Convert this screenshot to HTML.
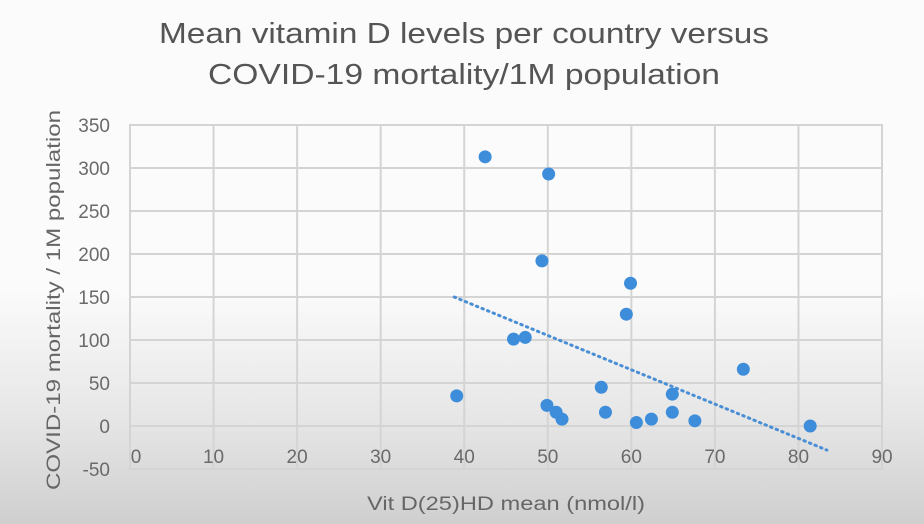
<!DOCTYPE html>
<html><head><meta charset="utf-8"><style>
html,body{margin:0;padding:0;width:924px;height:524px;overflow:hidden;}
body{background:linear-gradient(180deg,#fbfbfb 0%,#fbfbfb 55%,#e6e6e6 80%,#cfcfcf 100%);font-family:"Liberation Sans",sans-serif;}
</style></head><body>
<svg id="chart" width="924" height="524" xmlns="http://www.w3.org/2000/svg" style="position:absolute;left:0;top:0">
<rect x="130" y="125" width="752" height="344" fill="none" stroke="#d2d2d2" stroke-width="2"/>
<g id="grid"></g>
<g id="ticks" fill="#6a6a6a" font-size="19"></g>
<polyline id="trend" fill="none" stroke="#4a8fd6" stroke-width="3" stroke-dasharray="1.5 4.5" stroke-linecap="round"></polyline>
<g id="points"></g>
<text x="464" y="43" text-anchor="middle" font-size="29" fill="#555" textLength="610" lengthAdjust="spacingAndGlyphs">Mean vitamin D  levels per country versus</text>
<text x="464" y="84" text-anchor="middle" font-size="29" fill="#555" textLength="512" lengthAdjust="spacingAndGlyphs">COVID-19 mortality/1M population</text>
<text x="506" y="510" text-anchor="middle" font-size="19" fill="#666" textLength="278" lengthAdjust="spacingAndGlyphs">Vit D(25)HD mean (nmol/l)</text>
<text transform="translate(60,300) rotate(-90)" text-anchor="middle" font-size="19" fill="#666" textLength="380" lengthAdjust="spacingAndGlyphs">COVID-19 mortality / 1M population</text>
</svg>
<script>
const xTicks=[0,10,20,30,40,50,60,70,80,90];
const yTicks=[-50,0,50,100,150,200,250,300,350];
const vitD=[42.5,50.1,49.3,59.9,59.4,45.9,47.3,39.1,73.4,56.4,64.9,49.9,51.0,51.7,56.9,64.9,62.4,60.6,67.6,81.4];
const mortality=[313,293,192,166,130,101,103,35,66,45,37,24,16,8,16,16,8,4,6,0];
const trendX=[38.8,83.4];
const trendY=[150,-28];
const NS="http://www.w3.org/2000/svg";
const X=v=>130+v*8.356;
const Y=v=>426-v*0.86;
const grid=document.getElementById('grid'),ticks=document.getElementById('ticks'),pts=document.getElementById('points');
xTicks.forEach(t=>{
 const l=document.createElementNS(NS,'line');
 
 
 l.setAttribute('x1',X(t));l.setAttribute('x2',X(t));l.setAttribute('y1',Y(350));l.setAttribute('y2',Y(-50));
 l.setAttribute('stroke','#d4d4d4');l.setAttribute('stroke-width','2');grid.appendChild(l);
 const s=document.createElementNS(NS,'text');
 
 
 s.setAttribute('x',X(t)+(t===0?6:0));s.setAttribute('y',Y(-50)-6);s.setAttribute('text-anchor','middle');
 s.textContent=t;ticks.appendChild(s);
});
yTicks.forEach(t=>{
 const l=document.createElementNS(NS,'line');
 
 
 l.setAttribute('x1',X(0));l.setAttribute('x2',X(90));l.setAttribute('y1',Y(t));l.setAttribute('y2',Y(t));
 l.setAttribute('stroke','#d4d4d4');l.setAttribute('stroke-width','2');grid.appendChild(l);
 const s=document.createElementNS(NS,'text');
 
 
 s.setAttribute('x',110);s.setAttribute('y',Y(t)+7);s.setAttribute('text-anchor','end');
 s.textContent=t;ticks.appendChild(s);
});
document.getElementById('trend').setAttribute('points',trendX.map((x,i)=>X(x)+','+Y(trendY[i])).join(' '));
vitD.forEach((x,i)=>{
 const c=document.createElementNS(NS,'circle');
 
 
 c.setAttribute('cx',X(x));c.setAttribute('cy',Y(mortality[i]));c.setAttribute('r','6.5');c.setAttribute('fill','#3d8ddb');
 pts.appendChild(c);
});
</script>
</body></html>
